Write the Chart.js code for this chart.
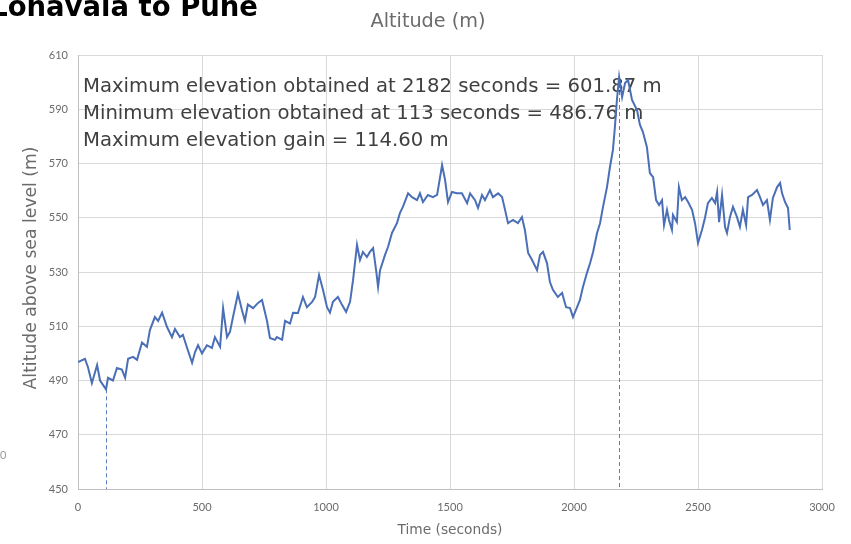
<!DOCTYPE html>
<html>
<head>
<meta charset="utf-8">
<script src="https://cdn.jsdelivr.net/npm/chart.js@4.4.0/dist/chart.umd.min.js"></script>
<style>
  body { margin: 0; background: #fff; }
  .wrap { position: relative; width: 851px; height: 544px; }
</style>
</head>
<body>
<div class="wrap"><canvas id="altChart"></canvas></div>
<script>
/* Altitude profile - Lonavala to Pune */

const times = [
  0, 28, 40, 56, 77, 89, 100, 113, 121, 141, 157, 177, 190, 202, 222, 238, 258, 278, 290, 310,
  323, 339, 359, 379, 391, 411, 423, 440, 460, 472, 484, 500, 520, 540, 552, 573, 585, 601, 613, 625,
  645, 661, 673, 685, 706, 726, 742, 762, 774, 794, 802, 823, 835, 855, 867, 887, 907, 923, 944, 956,
  972, 988, 1004, 1016, 1028, 1048, 1065, 1081, 1097, 1109, 1125, 1137, 1149, 1165, 1177, 1190, 1202, 1210, 1218, 1238,
  1250, 1266, 1286, 1298, 1310, 1331, 1347, 1367, 1379, 1391, 1411, 1431, 1448, 1460, 1468, 1480, 1492, 1508, 1528, 1548,
  1569, 1581, 1601, 1613, 1629, 1641, 1661, 1673, 1694, 1710, 1722, 1734, 1754, 1774, 1790, 1802, 1815, 1831, 1851, 1863,
  1875, 1891, 1903, 1915, 1935, 1952, 1968, 1984, 1996, 2012, 2024, 2036, 2052, 2065, 2077, 2093, 2105, 2117, 2133, 2145,
  2157, 2165, 2173, 2182, 2194, 2206, 2218, 2234, 2254, 2266, 2278, 2294, 2306, 2319, 2331, 2343, 2355, 2363, 2375, 2383,
  2395, 2399, 2415, 2423, 2435, 2448, 2460, 2476, 2488, 2500, 2516, 2528, 2540, 2556, 2569, 2577, 2585, 2597, 2609, 2617,
  2629, 2641, 2657, 2669, 2681, 2694, 2702, 2718, 2738, 2750, 2762, 2778, 2790, 2802, 2819, 2831, 2839, 2851, 2863, 2870
];

const altitudes = [
  496.8, 498, 495, 489, 495.7, 490, 488.5, 486.76, 491, 490, 494.6, 494, 491, 498, 498.7, 497.6, 504, 502.4, 508.6, 513.4,
  512, 515, 509.7, 506, 509, 506, 506.8, 502, 496.5, 500.5, 503, 500, 503, 502, 506, 502.4, 516.7, 506, 508, 513.4,
  522, 516, 512, 518, 516.7, 518.6, 519.7, 512, 505.7, 505, 506, 505, 512, 511, 515, 514.9, 520.8, 517, 519, 520.8,
  528.9, 523.4, 517, 515, 519, 520.8, 517.8, 515.3, 519, 527, 540, 534.4, 537.4, 535.5, 537.4, 538.8, 530.7, 524.5, 530.7, 536.3,
  539.2, 544.4, 548, 551.7, 554, 559, 557.6, 556.5, 559, 555.8, 558.4, 557.6, 558.4, 565, 569.4, 564, 555.8, 559.5, 559, 559,
  555.4, 559, 556.5, 553.6, 558.4, 556.5, 560.2, 557.6, 559, 557.6, 552.9, 548, 549.2, 548, 550.3, 545.5, 537, 534.4, 530.7, 536.3,
  537.4, 533.3, 526.3, 523.4, 520.8, 522.3, 517, 516.7, 513.4, 517, 519.7, 524.5, 529.6, 533.3, 537.4, 544.4, 548, 554, 561.3, 568.7,
  575, 583.5, 593.4, 601.87, 594.5, 599.7, 600.8, 593.4, 589.7, 584.2, 581.6, 576, 566.5, 565, 556.5, 554.7, 556.5, 547.3, 552.9, 549.2,
  545.5, 551, 548.4, 561.3, 556.5, 557.6, 555.8, 552.9, 548, 540.7, 545.5, 549.9, 555.4, 557.3, 555.4, 559.5, 548.4, 558.4, 546.6, 544.4,
  550.3, 554, 550.3, 546.6, 552.9, 547.3, 557.6, 558.4, 560.2, 557.6, 554.7, 556.5, 549.2, 557.3, 561.3, 562.8, 559, 555.8, 553.6, 545.5
];

// min / max markers (time, altitude)
const markerTimes = [113, 2182];
const markerAlts = [486.76, 601.87];

const xTicks = [0, 500, 1000, 1500, 2000, 2500, 3000];
const yTicks = [450, 470, 490, 510, 530, 550, 570, 590, 610];

const notes = [
  'Maximum elevation obtained at 2182 seconds = 601.87 m',
  'Minimum elevation obtained at 113 seconds = 486.76 m',
  'Maximum elevation gain = 114.60 m'
];

const FONT = 'Lato, "DejaVu Sans", sans-serif';
const WIDE = '"DejaVu Sans", sans-serif';

function fitFont(ctx, text, width, base, weight, family) {
  family = family || FONT;
  ctx.font = (weight || '') + ' ' + base + 'px ' + family;
  let size = base * width / ctx.measureText(text).width;
  ctx.font = (weight || '') + ' ' + size.toFixed(2) + 'px ' + family;
}

const textsPlugin = {
  id: 'texts',
  beforeDatasetsDraw: function(chart) {
    const ctx = chart.ctx;
    const x = chart.scales.x, y = chart.scales.y;
    ctx.save();
    // dashed drop lines at min / max
    ctx.strokeStyle = '#5a7cbc';
    ctx.lineWidth = 1;
    ctx.setLineDash([4, 3]);
    markerTimes.forEach(function(t, i) {
      const px = Math.round(x.getPixelForValue(t)) + 0.5;
      ctx.beginPath();
      ctx.moveTo(px, y.getPixelForValue(markerAlts[i]));
      ctx.lineTo(px, y.bottom);
      ctx.stroke();
    });
    ctx.setLineDash([]);
    // annotation text
    ctx.fillStyle = '#404040';
    ctx.textBaseline = 'middle';
    ctx.textAlign = 'left';
    fitFont(ctx, notes[0], 579, 17, '', WIDE);
    notes.forEach(function(s, i) {
      ctx.fillText(s, 83, 87 + i * 27);
    });
    ctx.restore();
  },
  afterDraw: function(chart) {
    const ctx = chart.ctx;
    ctx.save();
    // page title (cut by the top edge)
    ctx.fillStyle = '#000';
    ctx.textAlign = 'right';
    ctx.textBaseline = 'alphabetic';
    fitFont(ctx, 'Lonavala to Pune', 268, 26, 'bold', WIDE);
    ctx.fillText('Lonavala to Pune', 258, 16);
    // chart title
    ctx.fillStyle = '#6b6b6b';
    ctx.textAlign = 'center';
    ctx.textBaseline = 'middle';
    fitFont(ctx, 'Altitude (m)', 115, 15, '', WIDE);
    ctx.fillText('Altitude (m)', 428, 22);
    // x title
    fitFont(ctx, 'Time (seconds)', 105, 12, '', WIDE);
    ctx.fillText('Time (seconds)', 450, 530);
    // y title
    ctx.translate(32, 268);
    ctx.rotate(-Math.PI / 2);
    fitFont(ctx, 'Altitude above sea level (m)', 243, 12, '', WIDE);
    ctx.fillText('Altitude above sea level (m)', 0, 0);
    ctx.restore();
    // stray label from neighbouring chart
    ctx.save();
    ctx.fillStyle = '#9a9a9a';
    ctx.font = '11px ' + FONT;
    ctx.textBaseline = 'middle';
    ctx.fillText('0', 0, 455);
    ctx.restore();
  }
};

const points = times.map(function(t, i) {
  return { x: t, y: altitudes[i] };
});

const ctx = document.getElementById('altChart').getContext('2d');
// eslint-disable-next-line no-undef
const chart = new Chart(ctx, {
  type: 'line',
  data: {
    datasets: [{
      data: points,
      borderColor: '#4a6fb7',
      borderWidth: 2,
      pointRadius: 0,
      tension: 0,
      fill: false
    }]
  },
  options: {
    responsive: true,
    maintainAspectRatio: false,
    animation: false,
    layout: {
      padding: { left: 0, right: 29, top: 55, bottom: 0 }
    },
    plugins: {
      legend: { display: false },
      tooltip: { enabled: false }
    },
    scales: {
      x: {
        type: 'linear',
        min: xTicks[0],
        max: xTicks[xTicks.length - 1],
        afterBuildTicks: function(scale) {
          scale.ticks = xTicks.map(function(v) { return { value: v }; });
        },
        afterFit: function(scale) { scale.height = 55; },
        grid: { color: '#d9d9d9', drawTicks: false },
        border: { color: '#bfbfbf' },
        ticks: {
          padding: 12,
          color: '#6b6b6b',
          font: { size: 11, family: FONT },
          maxRotation: 0,
          callback: function(v) { return String(v); }
        }
      },
      y: {
        min: yTicks[0],
        max: yTicks[yTicks.length - 1],
        afterBuildTicks: function(scale) {
          scale.ticks = yTicks.map(function(v) { return { value: v }; });
        },
        afterFit: function(scale) { scale.width = 78; },
        grid: { color: '#d9d9d9', drawTicks: false },
        border: { color: '#bfbfbf' },
        ticks: {
          padding: 10,
          color: '#6b6b6b',
          font: { size: 11, family: FONT },
          callback: function(v) { return String(v); }
        }
      }
    }
  },
  plugins: [textsPlugin]
});
</script>
</body>
</html>
